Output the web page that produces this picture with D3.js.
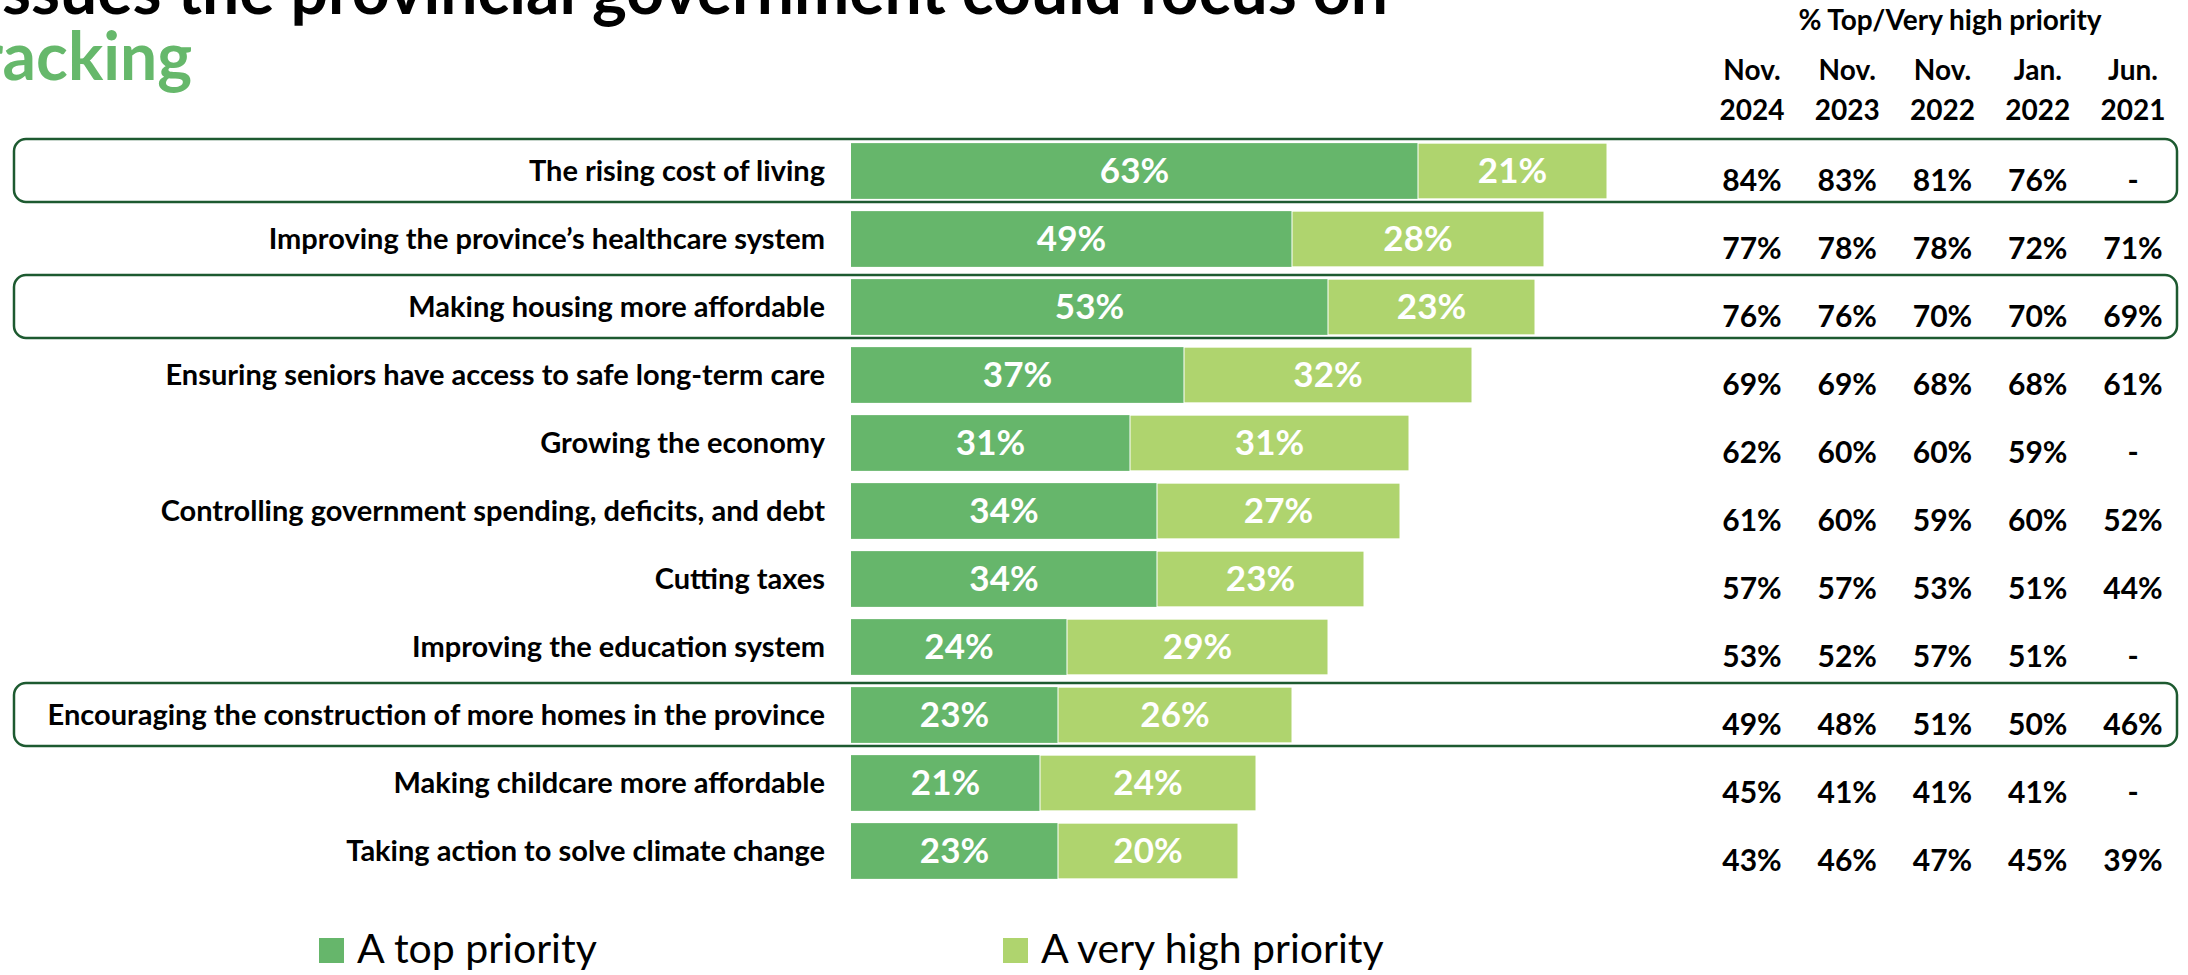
<!DOCTYPE html>
<html>
<head>
<meta charset="utf-8">
<script src="https://cdn.jsdelivr.net/npm/d3@7"></script>
<style>
  html, body { margin: 0; padding: 0; background: #ffffff; }
  svg { display: block; }
  text { font-family: Lato, "Open Sans", sans-serif; }
</style>
</head>
<body>
<svg id="chart" width="2188" height="975"></svg>
<script>
// Priority issues, with the share rating each one a top / very high priority
const categories = [
  "The rising cost of living",
  "Improving the province\u2019s healthcare system",
  "Making housing more affordable",
  "Ensuring seniors have access to safe long-term care",
  "Growing the economy",
  "Controlling government spending, deficits, and debt",
  "Cutting taxes",
  "Improving the education system",
  "Encouraging the construction of more homes in the province",
  "Making childcare more affordable",
  "Taking action to solve climate change"
];
const topPriority      = [63, 49, 53, 37, 31, 34, 34, 24, 23, 21, 23];
const veryHighPriority = [21, 28, 23, 32, 31, 27, 23, 29, 26, 24, 20];

// Tracking table: combined top / very high priority by wave (null = not asked)
const waveMonths = ["Nov.", "Nov.", "Nov.", "Jan.", "Jun."];
const waveYears  = ["2024", "2023", "2022", "2022", "2021"];
const nov2024 = [84, 77, 76, 69, 62, 61, 57, 53, 49, 45, 43];
const nov2023 = [83, 78, 76, 69, 60, 60, 57, 52, 48, 41, 46];
const nov2022 = [81, 78, 70, 68, 60, 59, 53, 57, 51, 41, 47];
const jan2022 = [76, 72, 70, 68, 59, 60, 51, 51, 50, 41, 45];
const jun2021 = [null, 71, 69, 61, null, 52, 44, null, 46, null, 39];

const highlighted = [
  "The rising cost of living",
  "Making housing more affordable",
  "Encouraging the construction of more homes in the province"
];
const seriesNames = ["A top priority", "A very high priority"];

const C_TOP = "#66b66b";
const C_HIGH = "#afd46e";
const C_FRAME = "#1d5a30";

const svg = d3.select("#chart");

// Scales
const y = d3.scaleBand()
  .domain(categories)
  .range([137, 885])
  .paddingInner(0.18)
  .paddingOuter(0.09);
const x = d3.scaleLinear().domain([0, 100]).range([851, 1751]);

const waves = [nov2024, nov2023, nov2022, jan2022, jun2021];
const col = d3.scalePoint()
  .domain(d3.range(waves.length))
  .range([1752, 2133]);

// Title (runs off the left edge of the canvas)
svg.append("text")
  .attr("x", 1388).attr("y", 14)
  .attr("text-anchor", "end")
  .attr("font-size", 66).attr("font-weight", 700)
  .attr("fill", "#000")
  .text("Top issues the provincial government could focus on");
svg.append("text")
  .attr("x", 192).attr("y", 80)
  .attr("text-anchor", "end")
  .attr("font-size", 66).attr("font-weight", 700)
  .attr("fill", "#66b86b")
  .text("Tracking");

// Table header
svg.append("text")
  .attr("x", 1950).attr("y", 30)
  .attr("text-anchor", "middle")
  .attr("font-size", 28).attr("font-weight", 700)
  .text("% Top/Very high priority");
const hdr = svg.append("g");
waveMonths.forEach((m, i) => {
  hdr.append("text")
    .attr("x", col(i)).attr("y", 80)
    .attr("text-anchor", "middle")
    .attr("font-size", 28).attr("font-weight", 700)
    .text(m);
  hdr.append("text")
    .attr("x", col(i)).attr("y", 120)
    .attr("text-anchor", "middle")
    .attr("font-size", 28).attr("font-weight", 700)
    .text(waveYears[i]);
});

// Rounded frames around highlighted rows
svg.append("g").selectAll("rect")
  .data(highlighted)
  .join("rect")
  .attr("x", 14)
  .attr("y", d => y(d) + y.bandwidth() / 2 - 32)
  .attr("width", 2177 - 14)
  .attr("height", 63)
  .attr("rx", 12).attr("ry", 12)
  .attr("fill", "none")
  .attr("stroke", C_FRAME)
  .attr("stroke-width", 2.5);

// Stacked bars
const rows = categories.map((c, i) => ({ c, top: topPriority[i], high: veryHighPriority[i] }));
const bars = svg.append("g");
bars.selectAll("rect.top")
  .data(rows)
  .join("rect")
  .attr("class", "top")
  .attr("x", x(0))
  .attr("y", d => y(d.c))
  .attr("width", d => x(d.top) - x(0))
  .attr("height", y.bandwidth())
  .attr("fill", C_TOP);
bars.selectAll("rect.high")
  .data(rows)
  .join("rect")
  .attr("class", "high")
  .attr("x", d => x(d.top))
  .attr("y", d => y(d.c))
  .attr("width", d => x(d.top + d.high) - x(d.top))
  .attr("height", y.bandwidth())
  .attr("fill", C_HIGH)
  .attr("stroke", "#ffffff")
  .attr("stroke-width", 1);

// Segment labels
const lbl = svg.append("g")
  .attr("fill", "#ffffff")
  .attr("font-size", 35)
  .attr("font-weight", 700)
  .attr("text-anchor", "middle");
lbl.selectAll("text.t")
  .data(rows)
  .join("text")
  .attr("x", d => (x(0) + x(d.top)) / 2)
  .attr("y", d => y(d.c) + y.bandwidth() / 2 + 12)
  .text(d => d.top + "%");
lbl.selectAll("text.h")
  .data(rows)
  .join("text")
  .attr("x", d => (x(d.top) + x(d.top + d.high)) / 2)
  .attr("y", d => y(d.c) + y.bandwidth() / 2 + 12)
  .text(d => d.high + "%");

// Category labels
svg.append("g").selectAll("text")
  .data(categories)
  .join("text")
  .attr("x", 825)
  .attr("y", d => y(d) + y.bandwidth() / 2 + 10)
  .attr("text-anchor", "end")
  .attr("font-size", 29)
  .attr("font-weight", 700)
  .attr("fill", "#000")
  .text(d => d);

// Tracking values
const tbl = svg.append("g")
  .attr("font-size", 30)
  .attr("font-weight", 700)
  .attr("text-anchor", "middle");
waves.forEach((w, i) => {
  tbl.selectAll("text.w" + i)
    .data(w.map((v, j) => ({ v, c: categories[j] })))
    .join("text")
    .attr("class", "w" + i)
    .attr("x", col(i))
    .attr("y", d => y(d.c) + y.bandwidth() / 2 + 20)
    .text(d => d.v == null ? "-" : d.v + "%");
});

// Legend
const legend = svg.append("g");
const legendX = [319, 1003];
seriesNames.forEach((name, i) => {
  legend.append("rect")
    .attr("x", legendX[i]).attr("y", 938)
    .attr("width", 25).attr("height", 25)
    .attr("fill", i === 0 ? C_TOP : C_HIGH);
  legend.append("text")
    .attr("x", legendX[i] + 38).attr("y", 963)
    .attr("font-size", 41)
    .attr("fill", "#000")
    .text(name);
});
</script>
</body>
</html>
